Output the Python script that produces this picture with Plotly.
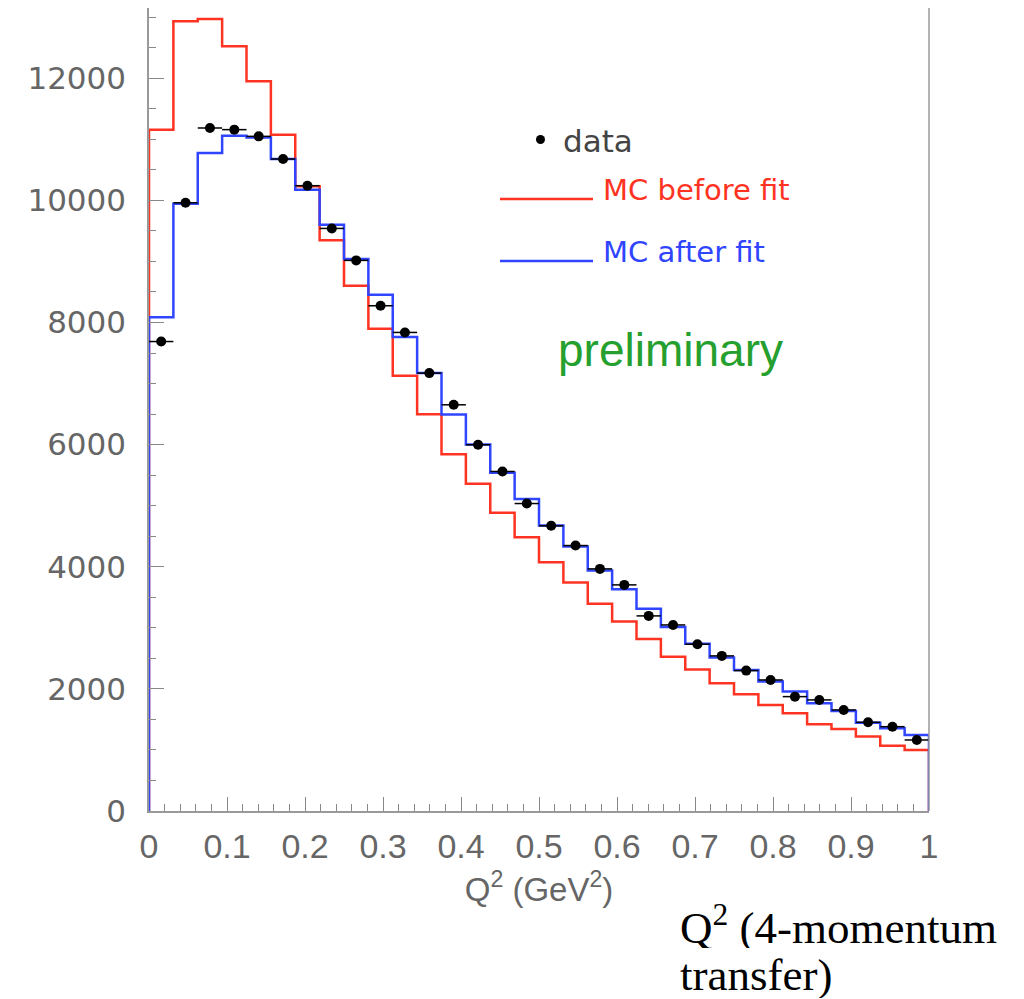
import numpy as np
import plotly.graph_objects as go

# ---- data ----
n_bins = 32
q2_min, q2_max = 0.0, 1.0

mc_before = [11155, 12933, 12971, 12523, 11950, 11076, 10229, 9345, 8602, 7897,
             7127, 6499, 5844, 5358, 4883, 4484, 4074, 3741, 3392, 3102,
             2815, 2528, 2316, 2092, 1912, 1737, 1600, 1420, 1344, 1218,
             1070, 999]
mc_after = [8084, 9945, 10776, 11059, 11031, 10677, 10175, 9601, 9039, 8454,
            7761, 7171, 6494, 6003, 5538, 5110, 4675, 4331, 3938, 3632,
            3312, 3012, 2740, 2512, 2310, 2119, 1955, 1765, 1638, 1447,
            1355, 1245]
data_counts = [7688, 9960, 11185, 11158, 11048, 10677, 10240, 9540, 9017, 8274,
               7837, 7171, 6652, 5997, 5560, 5035, 4670, 4347, 3965, 3703,
               3195, 3047, 2731, 2540, 2299, 2146, 1873, 1819, 1655, 1453,
               1381, 1163]

y_ticks = [0, 2000, 4000, 6000, 8000, 10000, 12000]
y_tick_text = ["0", "2000", "4000", "6000", "8000", "10000", "12000"]
x_title = "Q<sup>2</sup> (GeV<sup>2</sup>)"
legend_labels = ["data", "MC before fit", "MC after fit"]

# ---- geometry ----
W, H = 1024, 999
ML, MR, MT, MB = 149, 95, 8, 188
Y_MAX = 13150

edges = np.linspace(q2_min, q2_max, n_bins + 1)
centers = 0.5 * (edges[:-1] + edges[1:])
half_w = 0.5 * (edges[1] - edges[0])

def step_xy(vals):
    xs = [edges[0], edges[0]] + list(edges[1:-1]) + [edges[-1], edges[-1]]
    ys = [0, vals[0]] + list(vals[1:]) + [vals[-1], 0]
    return xs, ys

RED = "#ff3322"
BLUE = "#2f45ff"

fig = go.Figure()
xr, yr = step_xy(mc_before)
fig.add_trace(go.Scatter(x=xr, y=yr, mode="lines", line=dict(color=RED, width=2.5, shape="hv"),
                         name=legend_labels[1], showlegend=False))
xb, yb = step_xy(mc_after)
fig.add_trace(go.Scatter(x=xb, y=yb, mode="lines", line=dict(color=BLUE, width=2.5, shape="hv"),
                         name=legend_labels[2], showlegend=False))
fig.add_trace(go.Scatter(x=centers, y=data_counts, mode="markers",
                         marker=dict(color="black", size=10),
                         error_x=dict(type="constant", value=half_w, color="black", thickness=1.5, width=0),
                         name=legend_labels[0], showlegend=False))

def px(xp):
    return (xp - ML) / (W - ML - MR)

def py(yp):
    return (H - MB - yp) / (H - MT - MB)

shapes = [
    # right frame line
    dict(type="line", xref="paper", yref="paper", x0=1, x1=1, y0=0, y1=1,
         line=dict(color="#999999", width=1.5)),
    # legend lines
    dict(type="line", xref="paper", yref="paper", x0=px(500), x1=px(593), y0=py(199), y1=py(199),
         line=dict(color=RED, width=2.5)),
    dict(type="line", xref="paper", yref="paper", x0=px(500), x1=px(593), y0=py(261), y1=py(261),
         line=dict(color=BLUE, width=2.5)),
    # legend marker
    dict(type="circle", xref="paper", yref="paper", x0=px(536), x1=px(545), y0=py(135), y1=py(144),
         fillcolor="black", line=dict(color="black", width=0)),
]

LFONT = "DejaVu Sans"
annotations = [
    dict(x=px(561), y=py(141), xref="paper", yref="paper", text=legend_labels[0], showarrow=False,
         xanchor="left", yanchor="middle", font=dict(family=LFONT, size=31, color="#444444")),
    dict(x=px(601), y=py(190), xref="paper", yref="paper", text=legend_labels[1], showarrow=False,
         xanchor="left", yanchor="middle", font=dict(family=LFONT, size=29, color=RED)),
    dict(x=px(601), y=py(252), xref="paper", yref="paper", text=legend_labels[2], showarrow=False,
         xanchor="left", yanchor="middle", font=dict(family=LFONT, size=29, color=BLUE)),
    dict(x=px(556), y=py(350), xref="paper", yref="paper", text="preliminary", showarrow=False,
         xanchor="left", yanchor="middle", font=dict(family="Liberation Sans", size=46, color="#25a02e")),
    dict(x=px(679), y=py(925), xref="paper", yref="paper", text="Q<sup>2</sup> (4-momentum",
         showarrow=False, xanchor="left", yanchor="middle", height=46, borderpad=0,
         font=dict(family="Liberation Serif", size=45, color="black")),
    dict(x=px(679), y=py(975), xref="paper", yref="paper", text="transfer)",
         showarrow=False, xanchor="left", yanchor="middle", height=46, borderpad=0,
         font=dict(family="Liberation Serif", size=45, color="black")),
]

fig.update_layout(
    width=W, height=H,
    margin=dict(l=ML, r=MR, t=MT, b=MB, autoexpand=False),
    paper_bgcolor="white", plot_bgcolor="white",
    shapes=shapes, annotations=annotations,
    showlegend=False,
)
fig.update_xaxes(
    range=[q2_min, q2_max], dtick=0.1, tick0=0,
    ticks="inside", ticklen=14, tickwidth=1, tickcolor="#888888",
    minor=dict(dtick=0.02, tick0=0, ticks="inside", ticklen=7, tickcolor="#888888"),
    showline=True, linecolor="#999999", linewidth=1.5,
    showgrid=False, zeroline=False,
    tickfont=dict(family="Liberation Sans", size=34, color="#666666"),
    ticklabelstandoff=4,
    title=dict(text=x_title, font=dict(family="Liberation Sans", size=33, color="#666666"), standoff=14),
)
fig.update_yaxes(
    range=[0, Y_MAX], tickvals=y_ticks, ticktext=y_tick_text,
    ticks="inside", ticklen=15, tickwidth=1, tickcolor="#888888",
    minor=dict(dtick=500, tick0=0, ticks="inside", ticklen=7, tickcolor="#888888"),
    showline=True, linecolor="#999999", linewidth=1.5,
    showgrid=False, zeroline=False,
    tickfont=dict(family="DejaVu Sans", size=31, color="#666666"),
    ticklabelstandoff=15,
)

fig.write_html("out.html")
